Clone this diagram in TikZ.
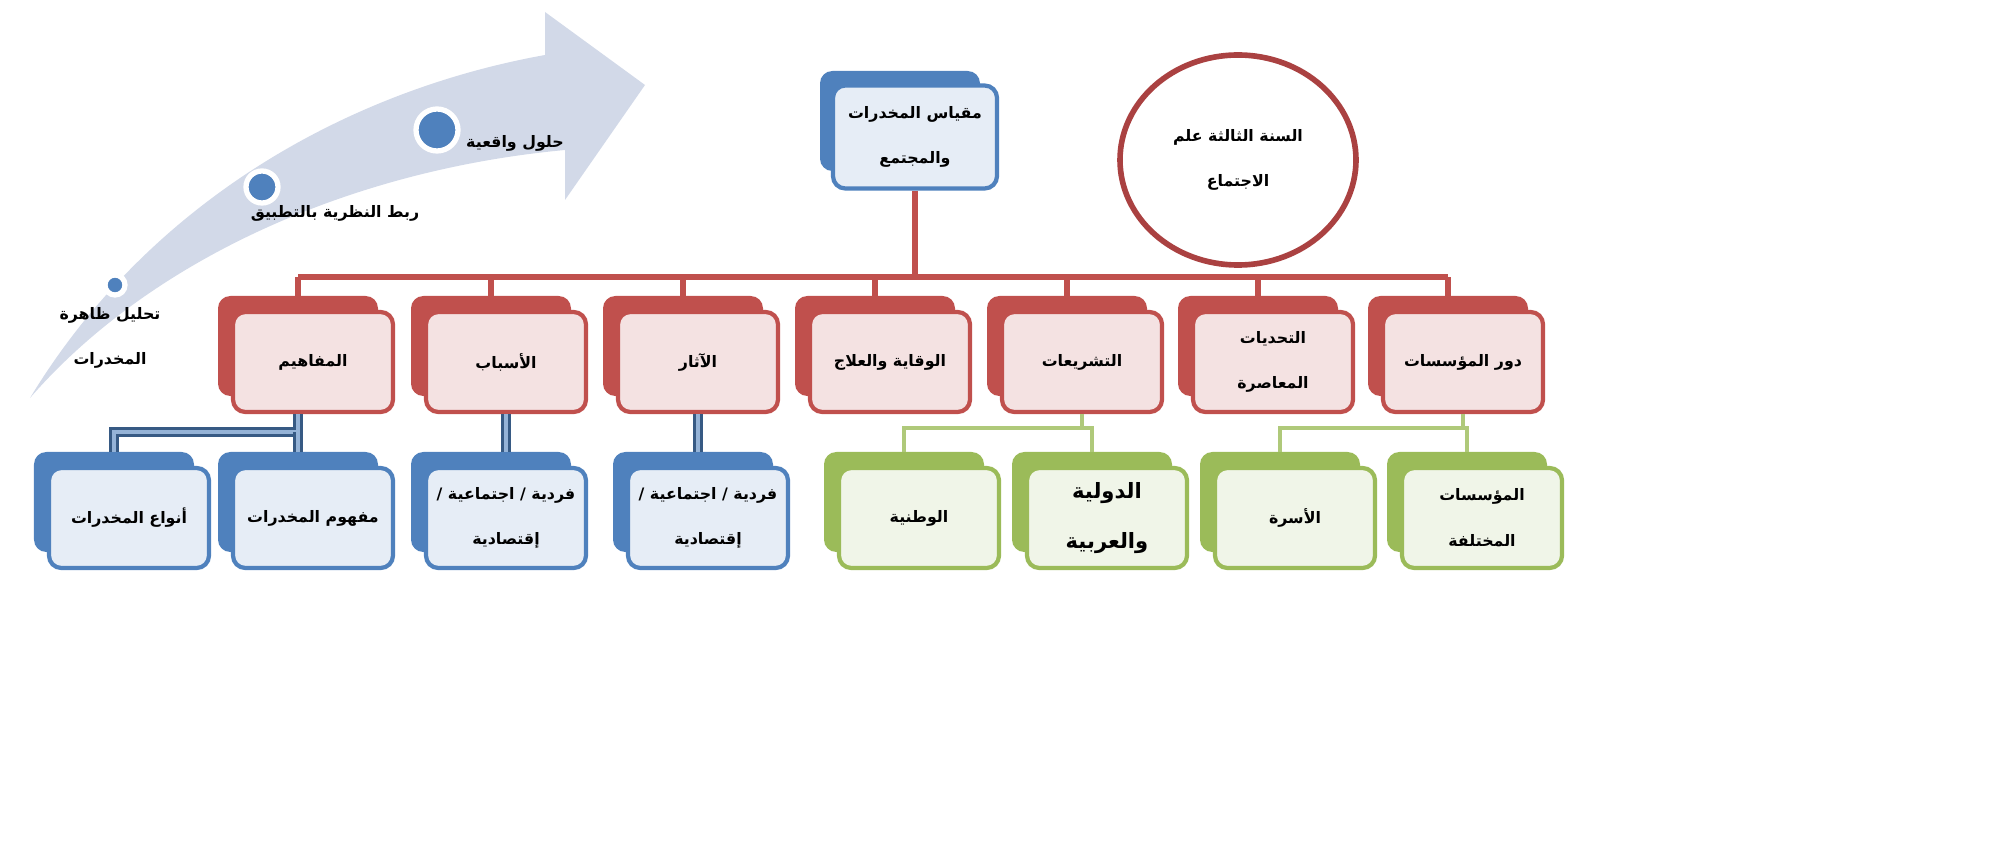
\documentclass[tikz,border=0pt]{standalone}
\usepackage{fontspec}
\newfontfamily\arabicfont[Script=Arabic]{DejaVu Sans}
\TeXXeTstate=1
\newcommand\ar[1]{\beginR #1\endR}
\usetikzlibrary{positioning,shapes.geometric}
\definecolor{redbk}{RGB}{192,80,77}
\definecolor{redfr}{RGB}{244,226,226}
\definecolor{bluebk}{RGB}{79,129,189}
\definecolor{bluefr}{RGB}{230,237,246}
\definecolor{greenbk}{RGB}{155,187,89}
\definecolor{greenfr}{RGB}{240,245,232}
\definecolor{arrowfill}{RGB}{210,217,232}
\definecolor{ringred}{RGB}{170,65,65}
\tikzset{
  txt/.style={font=\arabicfont\bfseries\fontsize{9}{26}\selectfont, align=center},
  backbox/.style={rounded corners=7pt, minimum width=3.2cm, minimum height=2cm, fill=#1, inner sep=0pt},
  frontbox/.style={txt, rounded corners=7pt, minimum width=3.2cm, minimum height=2cm, draw=#1bk, fill=#1fr, line width=2.4pt, inner sep=0pt},
  redline/.style={draw=redbk, line width=3.2pt},
  blueline/.style={draw=bluebk!70!black, double=bluebk!60, double distance=2.8pt, line width=1.6pt},
  greenline/.style={draw=greenbk!80, line width=2.4pt},
  dot/.style={circle, fill=bluebk, draw=white, line width=3pt, inner sep=0pt}
}
\begin{document}
\begin{tikzpicture}[x=0.2mm, y=-0.2mm]
% curved arrow
\fill[arrowfill] (30,398) .. controls (150,200) and (350,90) .. (545,55) -- (545,12) -- (645,85)
  -- (565,200) -- (565,150) .. controls (350,170) and (150,260) .. cycle;
\node[dot, minimum size=4mm] (d1) at (115,285) {};
\node[dot, minimum size=6.4mm] (d2) at (262,187) {};
\node[dot, minimum size=8.4mm] (d3) at (437,130) {};
\node[txt] (l1) at (110,338) {\ar{تحليل ظاهرة}\\\ar{المخدرات}};
\node[txt] (l2) at (335,213) {\ar{ربط النظرية بالتطبيق}};
\node[txt] (l3) at (515,143) {\ar{حلول واقعية}};
% ellipse
\node[draw=ringred, line width=3.2pt, ellipse, minimum width=4.72cm, minimum height=4.2cm, txt] (year) at (1238,160)
  {\ar{السنة الثالثة علم}\\\ar{الاجتماع}};
% top box
\node[backbox=bluebk] (bktop) at (900,121) {};
\node[frontbox=blue, minimum width=3.28cm, minimum height=2.06cm] (top) at (915,137) {\ar{مقياس المخدرات}\\\ar{والمجتمع}};
% red row
\foreach \n/\x/\t in {1/313/{\ar{المفاهيم}}, 2/506/{\ar{الأسباب}}, 3/698/{\ar{الآثار}},
  4/890/{\ar{الوقاية والعلاج}}, 5/1082/{\ar{التشريعات}}, 6/1273/{\ar{التحديات}\\\ar{المعاصرة}},
  7/1463/{\ar{دور المؤسسات}}}{
  \node[backbox=redbk] (bk\n) at (\x-15,346) {};
  \node[frontbox=red] (r\n) at (\x,362) {\t};
}
\coordinate (bus) at (0,277);
\draw[redline] (top.south) -- (top.south |- bus);
\draw[redline] (bk1.north |- bus) -- (bk7.north |- bus);
\foreach \n in {1,...,7}{\draw[redline] (bk\n.north) -- (bk\n.north |- bus);}
% bottom row
\foreach \n/\x/\c/\t in {1/129/blue/{\ar{أنواع المخدرات}}, 2/313/blue/{\ar{مفهوم المخدرات}},
  3/506/blue/{\ar{فردية / اجتماعية /}\\\ar{إقتصادية}}, 4/708/blue/{\ar{فردية / اجتماعية /}\\\ar{إقتصادية}},
  5/919/green/{\ar{الوطنية}}, 7/1295/green/{\ar{الأسرة}},
  8/1482/green/{\ar{المؤسسات}\\\ar{المختلفة}}}{
  \node[backbox=\c bk] (bb\n) at (\x-15,502) {};
  \node[frontbox=\c] (s\n) at (\x,518) {\t};
}
\node[backbox=greenbk] (bb6) at (1092,502) {};
\node[frontbox=green, font=\arabicfont\bfseries\fontsize{12}{28}\selectfont] (s6) at (1107,518) {\ar{الدولية}\\\ar{والعربية}};
% blue connectors
\coordinate (bj) at (0,432);
\draw[blueline] (r1.south -| bb2.north) -- (bb2.north |- bj) -- (bb1.north |- bj) -- (bb1.north);
\draw[blueline] (bb2.north |- bj) -- (bb2.north);
\draw[blueline] (r2.south) -- (r2.south |- bb3.north);
\draw[blueline] (r3.south) -- (r3.south |- bb4.north);
% green connectors
\coordinate (gj) at (0,428);
\draw[greenline] (r5.south) -- (r5.south |- gj);
\draw[greenline] (bb5.north) -- (bb5.north |- gj) -- (bb6.north |- gj) -- (bb6.north);
\draw[greenline] (r7.south) -- (r7.south |- gj);
\draw[greenline] (bb7.north) -- (bb7.north |- gj) -- (bb8.north |- gj) -- (bb8.north);
\pgfresetboundingbox
\useasboundingbox (0,0) rectangle (2000,853);
\end{tikzpicture}
\end{document}
